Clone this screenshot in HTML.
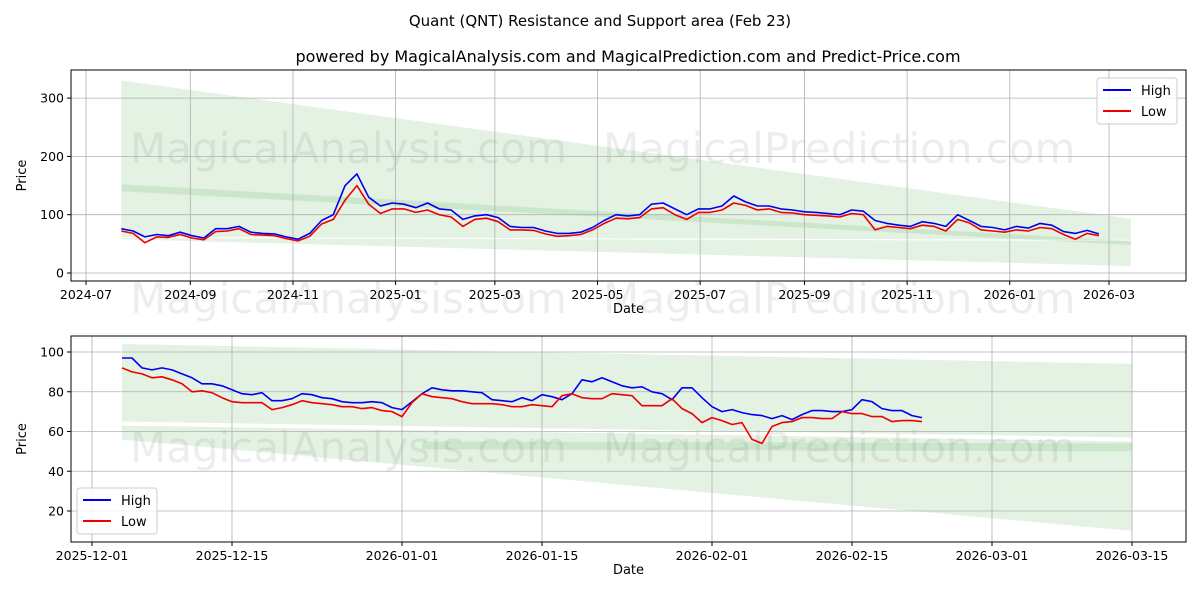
<!DOCTYPE html>
<html><head><meta charset="utf-8"><style>
html,body{margin:0;padding:0;background:#fff;font-family:"Liberation Sans","DejaVu Sans",sans-serif;width:1200px;height:600px;overflow:hidden}
svg{display:block}
svg text{font-family:"DejaVu Sans","Liberation Sans",sans-serif}
</style></head><body>
<svg id="c" width="1200" height="600" xmlns="http://www.w3.org/2000/svg">
<text x="600" y="26" text-anchor="middle" font-size="15">Quant (QNT) Resistance and Support area (Feb 23)</text>
<text x="628" y="62" text-anchor="middle" font-size="16">powered by MagicalAnalysis.com and MagicalPrediction.com and Predict-Price.com</text>
<g id="top"></g>
<g id="bot"></g>
</svg>
<script>
// ---- top chart data (weekly samples from 2024-07-22) ----
const topStart = "2024-07-22";
const topHigh = [76,72,62,66,64,70,64,60,76,76,80,70,68,67,62,58,68,90,100,150,170,130,115,120,118,112,120,110,108,92,98,100,95,80,78,78,72,68,68,70,78,90,100,98,100,118,120,110,100,110,110,115,132,122,115,115,110,108,105,104,102,100,108,106,90,85,82,80,88,85,80,100,90,80,78,74,80,77,85,82,71,68,73,67];
const topLow  = [72,68,52,62,61,66,60,57,71,72,76,66,65,64,59,55,63,84,92,125,150,118,102,110,110,104,108,100,96,80,92,94,88,74,74,73,67,63,64,66,74,85,94,93,95,110,112,100,92,104,104,108,120,116,108,110,104,103,100,99,98,96,102,100,74,80,78,76,82,80,72,92,86,74,72,70,74,72,78,76,66,58,68,64];
const topTicksY = [0,100,200,300];
const topTicksX = ["2024-07","2024-09","2024-11","2025-01","2025-03","2025-05","2025-07","2025-09","2025-11","2026-01","2026-03"];
const topBandStart = "2024-07-22", topBandEnd = "2026-03-14";
const topResBand = [330, 62, 93, 57];
const topSupBand = [60, 58, 55, 12];
const topMidBand = [152, 140, 55, 48];
// ---- bottom chart data (daily from 2025-12-04) ----
const botStart = "2025-12-04";
const botHigh = [97,97,92,91,92,91,89,87,84,84,83,81,79,78.5,79.5,75.5,75.5,76.5,79,78.5,77,76.5,75,74.5,74.5,75,74.5,72,71,75,79,82,81,80.5,80.5,80,79.5,76,75.5,75,77,75.5,78.5,77.5,76,79,86,85,87,85,83,82,82.5,80,79,76,82,82,77,72.5,70,71,69.5,68.5,68,66.5,68,66,68.5,70.5,70.5,70,70,71,76,75,71.5,70.5,70.5,68,67];
const botLow = [92,90,89,87,87.5,86,84,80,80.5,79.5,77,75,74.5,74.5,74.5,71,72,73.5,75.5,74.5,74,73.5,72.5,72.5,71.5,72,70.5,70,67.5,74.5,79,77.5,77,76.5,75,74,74,74,73.5,72.5,72.5,73.5,73,72.5,78,79,77,76.5,76.5,79,78.5,78,73,73,73,76.5,71.5,69,64.5,67,65.5,63.5,64.5,56,54,62.5,64.5,65,67,67,66.5,66.5,70,69,69,67.5,67.5,65,65.5,65.5,65];
const botTicksY = [20,40,60,80,100];
const botTicksX = ["2025-12-01","2025-12-15","2026-01-01","2026-01-15","2026-02-01","2026-02-15","2026-03-01","2026-03-15"];
const botBandStart = "2025-12-04", botBandEnd = "2026-03-15";
const botResBand = [104, 65, 94, 57];
const botSupBand = [63, 56, 55, 10];
const botMidBand = [0,0,54,50];

const NS="http://www.w3.org/2000/svg";
const day=s=>Date.parse(s+(s.length===7?"-01":""))/864e5;
function mk(p,t,a){const e=document.createElementNS(NS,t);for(const k in a)e.setAttribute(k,a[k]);p.appendChild(e);return e;}

function chart(g,cfg){
  const {L,T,R,B,x0,px,v0,y0,py}=cfg;
  const X=d=>x0+(day(d)-day(cfg.xRef))*px;
  const Y=v=>y0-(v-v0)*py;
  [[cfg.wm1y,"MagicalAnalysis.com",130],[cfg.wm1y,"MagicalPrediction.com",603],[cfg.wm2y,"MagicalAnalysis.com",130],[cfg.wm2y,"MagicalPrediction.com",603]].forEach(w=>{
    if(w[0]>600)return;
    const t=mk(g,"text",{x:w[2],y:w[0],"font-size":42,fill:"#000","fill-opacity":0.07});
    
    
    t.textContent=w[1];});
  const xs=X(cfg.bs),xe=X(cfg.be);
  const band=(b,op,nm)=>{if(!b[0]&&!b[1])return;const p=mk(g,"polygon",{points:`${xs},${Y(b[0])} ${xe},${Y(b[2])} ${xe},${Y(b[3])} ${xs},${Y(b[1])}`,fill:"#2e9a2e","fill-opacity":op});
    
    };
  band(cfg.res,0.13,'resistance-band');
  band(cfg.sup,0.13,'support-band');
  if(cfg.mid[0]){band(cfg.mid,0.13,'trend-band');}
  else{const p=mk(g,"polygon",{points:`${xs+300},${Y(cfg.mid[2]+1)} ${xe},${Y(cfg.mid[2])} ${xe},${Y(cfg.mid[3])} ${xs+300},${Y(cfg.mid[3]+1)}`,fill:"#2e9a2e","fill-opacity":0.13});
    
    }
  cfg.ty.forEach(v=>{const y=Y(v);
    mk(g,"line",{x1:L,x2:R,y1:y,y2:y,stroke:"#b0b0b0","stroke-width":0.8});
    mk(g,"line",{x1:L-4,x2:L,y1:y,y2:y,stroke:"#000"});
    const t=mk(g,"text",{x:L-7,y:y+4.5,"text-anchor":"end","font-size":12.5});
    
    
    t.textContent=v;});
  cfg.tx.forEach(d=>{const x=X(d);
    mk(g,"line",{x1:x,x2:x,y1:T,y2:B,stroke:"#b0b0b0","stroke-width":0.8});
    mk(g,"line",{x1:x,x2:x,y1:B,y2:B+4,stroke:"#000"});
    const t=mk(g,"text",{x:x,y:B+18,"text-anchor":"middle","font-size":12.5});
    
    
    t.textContent=d;});
  const ser=(arr,col,nm)=>{const pts=arr.map((v,i)=>`${(X(cfg.ds)+i*cfg.step*px).toFixed(1)},${Y(v).toFixed(1)}`).join(" ");
    const p=mk(g,"polyline",{points:pts,fill:"none",stroke:col,"stroke-width":1.6,"stroke-linejoin":"round"});
    
    };
  ser(cfg.hi,"#0000ee",'high-line');
  ser(cfg.lo,"#ee0000",'low-line');
  const fr=mk(g,"rect",{x:L,y:T,width:R-L,height:B-T,fill:"none",stroke:"#000","stroke-width":1});
  
  
  const xl=mk(g,"text",{x:(L+R)/2,y:B+32,"text-anchor":"middle","font-size":13});
  
  
  xl.textContent="Date";
  const yl=mk(g,"text",{x:0,y:0,"text-anchor":"middle","font-size":13,transform:`translate(26,${(T+B)/2}) rotate(-90)`});
  
  
  yl.textContent="Price";
  const [lx,ly]=cfg.leg;
  const lg=mk(g,"g",{});
  
  
  mk(lg,"rect",{x:lx,y:ly,width:80,height:46,rx:3,fill:"#fff","fill-opacity":0.85,stroke:"#ccc"});
  [["High","#0000ee",0],["Low","#ee0000",21]].forEach(e=>{
    mk(lg,"line",{x1:lx+6,x2:lx+34,y1:ly+12+e[2],y2:ly+12+e[2],stroke:e[1],"stroke-width":2});
    const t=mk(lg,"text",{x:lx+44,y:ly+17+e[2],"font-size":13});
    
    
    t.textContent=e[0];});
}
chart(document.getElementById("top"),{L:71,T:70,R:1186,B:281,xRef:"2024-07-01",x0:86,px:1.6826,v0:0,y0:273,py:0.583,
  ty:topTicksY,tx:topTicksX,hi:topHigh,lo:topLow,ds:topStart,step:7,bs:topBandStart,be:topBandEnd,res:topResBand,sup:topSupBand,mid:topMidBand,leg:[1097,78],wm1y:163,wm2y:313});
chart(document.getElementById("bot"),{L:71,T:336,R:1186,B:542,xRef:"2025-12-01",x0:92,px:10,v0:20,y0:511,py:1.9875,
  ty:botTicksY,tx:botTicksX,hi:botHigh,lo:botLow,ds:botStart,step:1,bs:botBandStart,be:botBandEnd,res:botResBand,sup:botSupBand,mid:botMidBand,leg:[77,488],wm1y:462,wm2y:9999});
</script>
</body></html>
